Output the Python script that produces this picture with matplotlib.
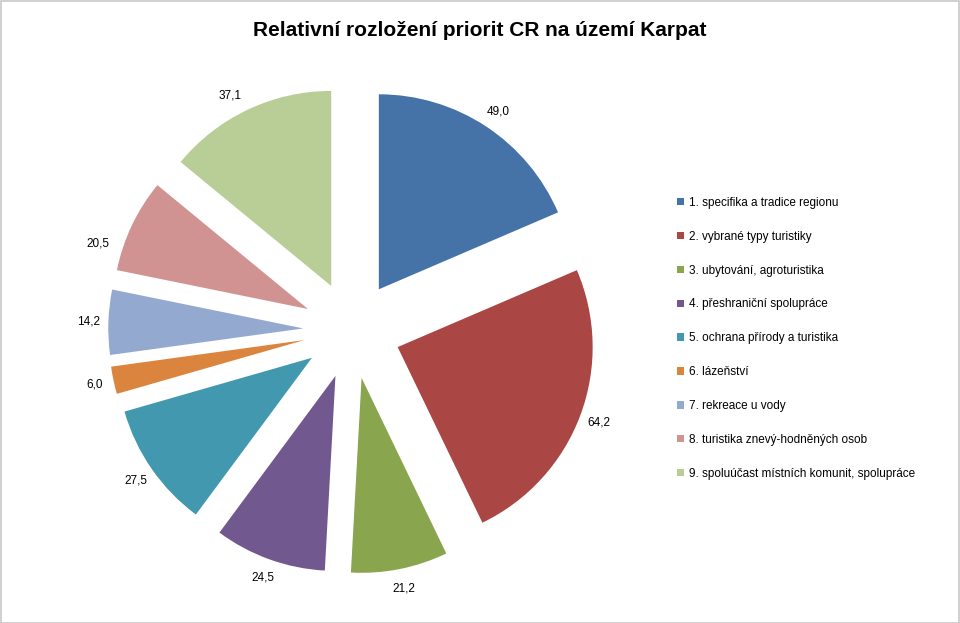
import matplotlib.pyplot as plt
from matplotlib.patches import Rectangle

plt.rcParams['font.family'] = ['Liberation Sans', 'DejaVu Sans']

categories = ["1. specifika a tradice regionu",
              "2. vybrané typy turistiky",
              "3. ubytování, agroturistika",
              "4. přeshraniční spolupráce",
              "5. ochrana přírody a turistika",
              "6. lázeňství",
              "7. rekreace u vody",
              "8. turistika znevý-hodněných osob",
              "9. spoluúčast místních komunit, spolupráce"]
values = [49.0, 64.2, 21.2, 24.5, 27.5, 6.0, 14.2, 20.5, 37.1]
value_labels = ["49,0", "64,2", "21,2", "24,5", "27,5", "6,0", "14,2", "20,5", "37,1"]
colors = ['#4572A7', '#AA4643', '#89A54E', '#71588F', '#4198AF',
          '#DB843D', '#93A9CF', '#D19392', '#B9CD96']

W, H = 960, 623
R = 195.0          # pie radius in pixels
cx, cy = 352, 330  # pie centre, pixels from top-left

fig = plt.figure(figsize=(W / 100, H / 100), dpi=100)
ax = fig.add_axes([0, 0, 1, 1])

wedges, texts = ax.pie(values, explode=[0.25] * len(values), labels=value_labels,
                       colors=colors, startangle=90, counterclock=False,
                       labeldistance=1.1, textprops={'fontsize': 8.5})
for t in texts:
    t.set_ha('center')
    t.set_va('center')

# the reference has a couple of labels nudged by hand
texts[7].set_position(((98 - cx) / R, (cy - 244) / R))
texts[8].set_position(((230 - cx) / R, (cy - 96) / R))
texts[0].set_position(((498 - cx) / R, (cy - 112) / R))

ax.set_xlim(-cx / R, (W - cx) / R)
ax.set_ylim(-(H - cy) / R, cy / R)
ax.set_aspect('auto')
ax.axis('off')

fig.text(0.5, 1 - 31 / H, "Relativní rozložení priorit CR na území Karpat",
         ha='center', va='center', fontsize=15, fontweight='bold')

leg = fig.legend(wedges, categories, loc='upper left',
                 bbox_to_anchor=(671 / W, 1 - 191 / H), frameon=False,
                 fontsize=8.5, handlelength=0.6, handleheight=0.6,
                 handletextpad=0.4, labelspacing=1.85, borderpad=0)

fig.add_artist(Rectangle((0.5 / W, 0.5 / H), 1 - 1.5 / W, 1 - 1.5 / H,
                         transform=fig.transFigure, fill=False,
                         edgecolor='#C8C8C8', linewidth=1.2))

fig.savefig('out.png', dpi=100, facecolor='white')
